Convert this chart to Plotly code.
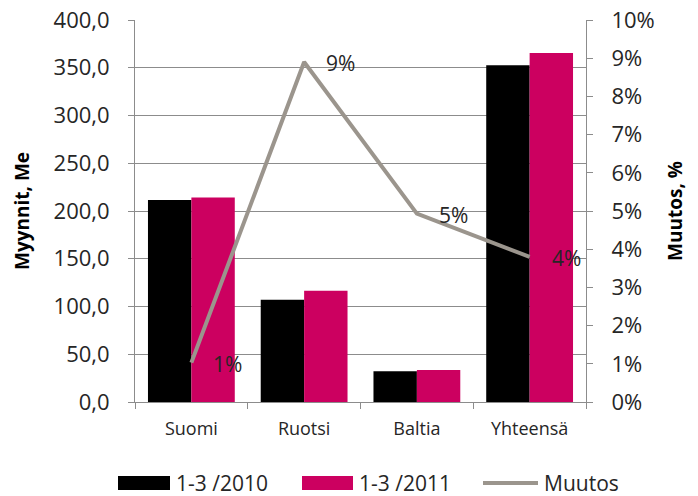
import plotly.graph_objects as go

categories = ["Suomi", "Ruotsi", "Baltia", "Yhteensä"]
sales_2010 = [211.5, 107.0, 32.1, 352.5]
sales_2011 = [214.2, 116.5, 33.5, 365.4]
change_pct = [1.03, 8.9, 4.93, 3.8]
change_labels = ["1%", "9%", "5%", "4%"]
series_names = ["1-3 /2010", "1-3 /2011", "Muutos"]
left_ticks = [0, 50, 100, 150, 200, 250, 300, 350, 400]
left_tick_text = ["0,0", "50,0", "100,0", "150,0", "200,0", "250,0", "300,0", "350,0", "400,0"]
right_ticks = list(range(0, 11))
right_tick_text = [f"{v}%" for v in right_ticks]

FONT = "Open Sans"
TXT = "#262626"
GRID = "#8c8c8c"
C2010 = "#000000"
C2011 = "#cc0060"
CLINE = "#9b958d"

W, H = 698, 496
ML, MR, MT, MB = 135, 112, 20, 94
PW, PH = W - ML - MR, H - MT - MB


def px(x):
    return (x - ML) / PW


def py(y):
    return (H - MB - y) / PH


fig = go.Figure()
fig.add_trace(go.Bar(x=categories, y=sales_2010, name=series_names[0], showlegend=False,
                     marker=dict(color=C2010, line=dict(width=0))))
fig.add_trace(go.Bar(x=categories, y=sales_2011, name=series_names[1], showlegend=False,
                     marker=dict(color=C2011, line=dict(width=0))))
fig.add_trace(go.Scatter(x=categories, y=change_pct, name=series_names[2], yaxis="y2",
                         showlegend=False, mode="lines", line=dict(color=CLINE, width=4)))

for c, v, t in zip(categories, change_pct, change_labels):
    fig.add_annotation(x=c, y=v, yref="y2", text=t, showarrow=False,
                       xanchor="left", yanchor="middle", xshift=20, yshift=-1,
                       font=dict(family=FONT, size=21, color=TXT))

# legend (drawn manually to get Excel-style wide swatches)
legend_y = 483
swatches = [(118, 170, C2010, "rect"), (302, 353, C2011, "rect"), (483, 538, CLINE, "line")]
for (x0, x1, col, kind), name in zip(swatches, series_names):
    if kind == "rect":
        fig.add_shape(type="rect", xref="paper", yref="paper",
                      x0=px(x0), x1=px(x1), y0=py(legend_y + 7), y1=py(legend_y - 7),
                      fillcolor=col, line=dict(width=0))
    else:
        fig.add_shape(type="line", xref="paper", yref="paper",
                      x0=px(x0), x1=px(x1), y0=py(legend_y), y1=py(legend_y),
                      line=dict(color=col, width=4))
    fig.add_annotation(xref="paper", yref="paper", x=px(x1 + 4), y=py(legend_y),
                       text=name, showarrow=False, xanchor="left", yanchor="middle",
                       font=dict(family=FONT, size=21, color=TXT))

fig.update_layout(
    width=W, height=H,
    margin=dict(l=ML, r=MR, t=MT, b=MB, autoexpand=False),
    paper_bgcolor="white", plot_bgcolor="white",
    barmode="group", bargap=0.23, bargroupgap=0,
    font=dict(family=FONT, color=TXT),
    showlegend=False,
    xaxis=dict(
        showgrid=False, showline=True, linecolor=GRID, linewidth=1,
        ticks="outside", tickson="boundaries", ticklen=6, tickcolor=GRID,
        tickfont=dict(family=FONT, size=18, color=TXT),
        ticklabelstandoff=10,
        automargin=False,
    ),
    yaxis=dict(
        range=[0, 400], tickvals=left_ticks, ticktext=left_tick_text,
        showgrid=True, gridcolor=GRID, gridwidth=1,
        showline=True, linecolor=GRID, linewidth=1,
        ticks="outside", ticklen=6, tickcolor=GRID,
        tickfont=dict(family=FONT, size=22, color=TXT),
        ticklabelstandoff=14,
        zeroline=False, automargin=False,
        title=dict(text="<b>Myynnit, Me</b>", font=dict(family=FONT, size=19, color="#000000"), standoff=18),
    ),
    yaxis2=dict(
        range=[0, 10], tickvals=right_ticks, ticktext=right_tick_text,
        overlaying="y", side="right", showgrid=False,
        showline=True, linecolor=GRID, linewidth=1,
        ticks="outside", ticklen=6, tickcolor=GRID,
        tickfont=dict(family=FONT, size=22, color=TXT),
        ticklabelstandoff=14,
        zeroline=False, automargin=False,
        title=dict(text="<b>Muutos, %</b>", font=dict(family=FONT, size=19, color="#000000"), standoff=14),
    ),
)

fig.write_html("out.html")
